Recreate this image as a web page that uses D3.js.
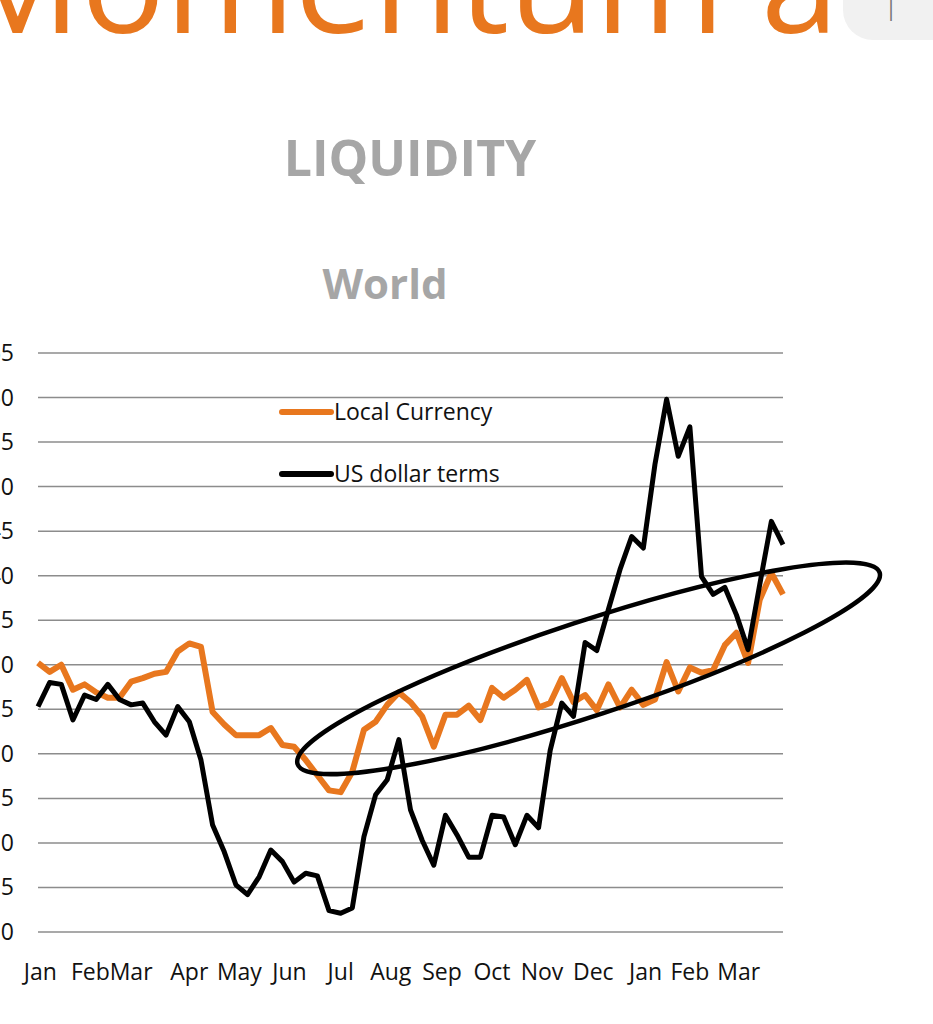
<!DOCTYPE html>
<html><head><meta charset="utf-8">
<script src="https://cdn.jsdelivr.net/npm/d3@7"></script>
<style>body{margin:0;background:#fff;overflow:hidden}text{font-family:"Open Sans","Liberation Sans",sans-serif}</style>
</head><body>
<svg id="c" width="933" height="1024"></svg>
<script>
const monthLabels = ["Jan","Feb","Mar","Apr","May","Jun","Jul","Aug","Sep","Oct","Nov","Dec","Jan","Feb","Mar"];
const monthWeeks = [0.2,4.5,8,13,17.3,21.6,26,30.3,34.7,39,43.3,47.7,52.2,56,60.2];
const yTicks = [0,5,10,15,20,25,30,35,40,45,50,55,60,65];
const localCurrency = [30.2,29.2,30.0,27.2,27.8,26.9,26.3,26.3,28.1,28.5,29.0,29.2,31.5,32.4,32.0,24.7,23.3,22.1,22.1,22.1,22.9,21.0,20.8,19.3,17.6,15.9,15.7,18.0,22.7,23.6,25.5,26.9,25.8,24.2,20.8,24.4,24.4,25.4,23.8,27.4,26.3,27.2,28.3,25.2,25.7,28.5,25.8,26.6,24.9,27.8,25.2,27.2,25.5,26.1,30.3,27.0,29.7,29.1,29.4,32.2,33.6,30.2,37.3,40.3,37.9];
const usDollar = [25.3,28.0,27.8,23.8,26.6,26.1,27.8,26.1,25.5,25.7,23.6,22.1,25.3,23.6,19.3,12.0,9.0,5.3,4.2,6.2,9.2,7.9,5.6,6.6,6.3,2.4,2.1,2.7,10.7,15.4,17.1,21.6,13.7,10.3,7.5,13.1,10.9,8.4,8.4,13.1,12.9,9.8,13.1,11.7,20.4,25.7,24.2,32.5,31.6,36.2,40.7,44.4,43.1,52.5,59.8,53.4,56.7,39.9,37.9,38.7,35.6,31.7,39.0,46.1,43.5];
const ellipseSpec = {cx:47.3, cy:29.6, halfLen:25, halfVal:5.3};

const svg = d3.select("#c");
const x = d3.scaleLinear().domain([0, 64]).range([38, 783]);
const y = d3.scaleLinear().domain([0, 65]).range([932, 353]);

// header
svg.append("text").attr("x",-45).attr("y",33).attr("font-size",140).attr("fill","#E8771E").text("Momentum a");
svg.append("rect").attr("x",843).attr("y",-40).attr("width",130).attr("height",80).attr("rx",30).attr("fill","#f1f1f1");
svg.append("text").attr("x",885).attr("y",16).attr("font-size",22).attr("fill","#777").text("|");
svg.append("text").attr("x",410).attr("y",176).attr("text-anchor","middle").attr("font-size",50).attr("font-weight","bold").attr("fill","#a6a6a6").text("LIQUIDITY");
svg.append("text").attr("x",385).attr("y",299).attr("text-anchor","middle").attr("font-size",42).attr("font-weight","bold").attr("fill","#a6a6a6").text("World");

// grid
svg.append("g").selectAll("line").data(yTicks).join("line")
  .attr("x1",38).attr("x2",783).attr("y1",d=>y(d)).attr("y2",d=>y(d))
  .attr("stroke","#8c8c8c").attr("stroke-width",1.5);
svg.append("g").selectAll("text").data(yTicks).join("text")
  .attr("x",14).attr("y",d=>y(d)+8).attr("text-anchor","end").attr("font-size",23).attr("fill","#111").text(d=>d);
svg.append("g").selectAll("text").data(monthLabels).join("text")
  .attr("x",(d,i)=>x(monthWeeks[i])).attr("y",980).attr("text-anchor","middle").attr("font-size",23).attr("fill","#111").text(d=>d);

const line = d3.line().x((d,i)=>x(i)).y(d=>y(d));
svg.append("path").datum(localCurrency).attr("d",line).attr("fill","none").attr("stroke","#E8771E").attr("stroke-width",6).attr("stroke-linejoin","round");
svg.append("path").datum(usDollar).attr("d",line).attr("fill","none").attr("stroke","#000").attr("stroke-width",5).attr("stroke-linejoin","round");

// ellipse
const ecx = x(ellipseSpec.cx), ecy = y(ellipseSpec.cy);
const dx = x(ellipseSpec.cx+ellipseSpec.halfLen)-ecx, dy = y(ellipseSpec.cy+ellipseSpec.halfLen*0.43)-ecy;
const ang = Math.atan2(dy, dx)*180/Math.PI, rx = Math.hypot(dx,dy);
svg.append("ellipse").attr("cx",ecx).attr("cy",ecy).attr("rx",rx).attr("ry",y(0)-y(ellipseSpec.halfVal))
  .attr("transform",`rotate(${ang},${ecx},${ecy})`).attr("fill","none").attr("stroke","#000").attr("stroke-width",4.5);

// legend
const leg = [["Local Currency","#E8771E",412],["US dollar terms","#000",474]];
leg.forEach(([t,c,yy])=>{
  svg.append("line").attr("x1",282).attr("x2",331).attr("y1",yy).attr("y2",yy).attr("stroke",c).attr("stroke-width",6).attr("stroke-linecap","round");
  svg.append("text").attr("x",334).attr("y",yy+8).attr("font-size",23).attr("fill","#111").text(t);
});
</script>
</body></html>
